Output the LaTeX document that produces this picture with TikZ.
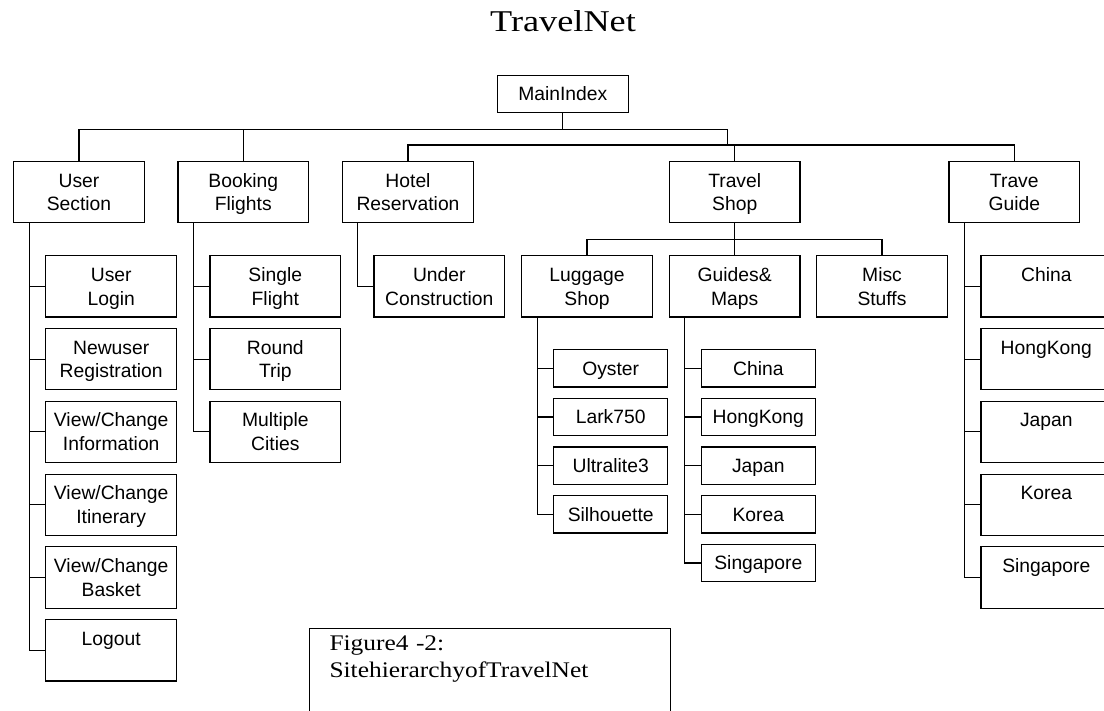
\documentclass[tikz,border=0pt]{standalone}
\usepackage{fontspec}
\newfontfamily\boxfont{Liberation Sans}
\newfontfamily\titlefont[FakeStretch=1.2]{Liberation Serif}
\newfontfamily\notefont[FakeStretch=1.14]{Liberation Serif}
\tikzset{
  link/.style={draw=black, line width=1.1pt},
  page/.style={draw=black, line width=1.1pt, rectangle, inner sep=0pt,
    font=\boxfont\fontsize{19.3}{23.8}\selectfont, align=center,
    text height=13.8pt},
  tall/.style={page, minimum width=130.6pt, minimum height=61.3pt,
    text width=128pt, text depth=23.8pt},
  flat/.style={page, minimum width=113.6pt, minimum height=37.3pt,
    text width=112pt, text depth=0pt},
  root/.style={page, minimum width=131pt, minimum height=36.6pt,
    text width=128pt, text depth=0pt},
}
\begin{document}
\begin{tikzpicture}[x=1pt, y=-1pt]
  \fill[white] (0,0) rectangle (1104,711);
  \useasboundingbox (0,0) rectangle (1104,711);

  % title
  \node[font=\titlefont\fontsize{30.2}{36}\selectfont, anchor=base, inner sep=0pt]
    (title) at (563,31.7) {TravelNet};

  % root and first level
  \node[root] (main) at (562.8,94) {MainIndex};
  \node[tall] (user)  at (79,192.2)    {User\\Section};
  \node[tall] (book)  at (243.3,192.2) {Booking\\Flights};
  \node[tall] (hotel) at (408,192.2)   {Hotel\\Reservation};
  \node[tall] (shop)  at (734.7,192.2) {Travel\\Shop};
  \node[tall] (guide) at (1014.3,192.2){Trave\\Guide};

  % user section pages
  \node[tall] (u1) at (111.2,286.35) {User\\Login};
  \node[tall] (u2) at (111.2,359.15) {Newuser\\Registration};
  \node[tall] (u3) at (111.2,431.95) {View/Change\\Information};
  \node[tall] (u4) at (111.2,504.75) {View/Change\\Itinerary};
  \node[tall] (u5) at (111.2,577.55) {View/Change\\Basket};
  \node[tall] (u6) at (111.2,650.35) {Logout};

  % booking pages
  \node[tall] (b1) at (275.3,286.35) {Single\\Flight};
  \node[tall] (b2) at (275.3,359.15) {Round\\Trip};
  \node[tall] (b3) at (275.3,431.95) {Multiple\\Cities};

  % hotel page
  \node[tall] (h1) at (439.3,286.35) {Under\\Construction};

  % shop sections
  \node[tall] (lug)  at (587,286.35)   {Luggage\\Shop};
  \node[tall] (maps) at (734.7,286.35) {Guides\&\\Maps};
  \node[tall] (misc) at (882,286.35)   {Misc\\Stuffs};

  % luggage items
  \node[flat] (l1) at (610.7,368.35) {Oyster};
  \node[flat] (l2) at (610.7,417)    {Lark750};
  \node[flat] (l3) at (610.7,465.65) {Ultralite3};
  \node[flat] (l4) at (610.7,514.3)  {Silhouette};

  % guides and maps
  \node[flat] (m1) at (758.35,368.35) {China};
  \node[flat] (m2) at (758.35,417)    {HongKong};
  \node[flat] (m3) at (758.35,465.65) {Japan};
  \node[flat] (m4) at (758.35,514.3)  {Korea};
  \node[flat] (m5) at (758.35,562.95) {Singapore};

  % travel guide countries
  \node[tall] (g1) at (1046.3,286.35) {China};
  \node[tall] (g2) at (1046.3,359.15) {HongKong};
  \node[tall] (g3) at (1046.3,431.95) {Japan};
  \node[tall] (g4) at (1046.3,504.75) {Korea};
  \node[tall] (g5) at (1046.3,577.55) {Singapore};

  % buses
  \coordinate (bus1) at (562.8,129.3);
  \coordinate (j1)   at (727.3,129.3);
  \coordinate (j2)   at (727.3,145);
  \coordinate (sbus) at (734.7,239.3);

  \draw[link] (main.south) -- (bus1) -| (user.north);
  \draw[link] (bus1) -| (book.north);
  \draw[link] (bus1) -- (j1) -- (j2) -| (hotel.north);
  \draw[link] (j2) -| (shop.north);
  \draw[link] (j2) -| (guide.north);

  \draw[link] (shop.south) -- (sbus) -| (lug.north);
  \draw[link] (sbus) -| (maps.north);
  \draw[link] (sbus) -| (misc.north);

  % trunks
  \foreach \c in {u1,u2,u3,u4,u5,u6}
    \draw[link] ([xshift=16.3pt]user.south west) |- (\c.west);
  \foreach \c in {b1,b2,b3}
    \draw[link] ([xshift=15.7pt]book.south west) |- (\c.west);
  \draw[link] ([xshift=15.6pt]hotel.south west) |- (h1.west);
  \foreach \c in {l1,l2,l3,l4}
    \draw[link] ([xshift=16pt]lug.south west) |- (\c.west);
  \foreach \c in {m1,m2,m3,m4,m5}
    \draw[link] ([xshift=15.7pt]maps.south west) |- (\c.west);
  \foreach \c in {g1,g2,g3,g4,g5}
    \draw[link] ([xshift=15.7pt]guide.south west) |- (\c.west);

  % caption
  \node[draw=black, line width=1.1pt, anchor=north west, inner sep=0pt,
    minimum width=360.7pt, minimum height=100pt] (capbox) at (309.3,628.3) {};
  \node[font=\notefont\fontsize{22.3}{27.3}\selectfont, anchor=base west,
    inner sep=0pt, text width=340pt, align=left]
    (captext) at (329.3,650) {Figure4 -2:\\SitehierarchyofTravelNet};
\end{tikzpicture}
\end{document}
